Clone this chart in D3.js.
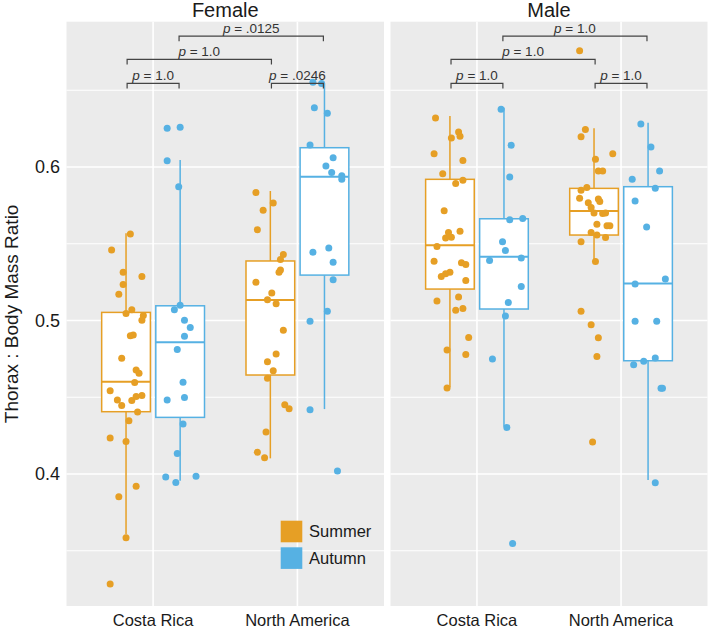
<!DOCTYPE html>
<html><head><meta charset="utf-8">
<script src="https://cdn.jsdelivr.net/npm/d3@7"></script>
<style>body{margin:0;background:#fff} text{font-family:"Liberation Sans",Arial,sans-serif}</style>
</head><body><svg id="c" width="709" height="630"></svg>
<script>
// ---------------- data ----------------
const panels = ["Female", "Male"];
const regions = ["Costa Rica", "North America"];
const seasons = ["Summer", "Autumn"];
const seasonColors = ["#E69F25", "#56B1E3"];
const yMajorTicks = [0.4, 0.5, 0.6];
const yMinorTicks = [0.35, 0.45, 0.55, 0.65];
const yDomain = [0.314, 0.6947];

// points: [ratio, jitter (in category units)]
const femaleCostaRicaSummer = [[0.5564,0.03],[0.546,-0.10],[0.5315,-0.02],[0.5287,0.11],[0.5235,-0.02],[0.5172,-0.05],[0.5071,0.04],[0.5045,0.00],[0.5032,0.12],[0.5002,0.11],[0.4905,0.05],[0.4900,0.03],[0.4754,-0.03],[0.4678,0.07],[0.4657,0.09],[0.4596,0.06],[0.4542,-0.11],[0.4483,-0.06],[0.4447,-0.03],[0.4479,0.04],[0.4505,0.07],[0.4511,0.11],[0.4404,0.08],[0.4347,0.02],[0.4235,-0.11],[0.4211,0.00],[0.392,0.07],[0.3852,-0.05],[0.3585,0.00],[0.3284,-0.11]];
const femaleCostaRicaAutumn = [[0.6252,-0.09],[0.6259,0.00],[0.6041,-0.09],[0.5872,-0.01],[0.5099,0.00],[0.5071,-0.04],[0.5002,0.03],[0.4955,0.07],[0.4898,0.03],[0.4812,-0.02],[0.4598,0.02],[0.4483,-0.09],[0.4498,0.03],[0.4326,0.02],[0.4134,-0.02],[0.3981,-0.10],[0.3944,-0.03],[0.3985,0.11]];
const femaleNorthAmericaSummer = [[0.5834,-0.10],[0.5765,0.02],[0.5719,-0.05],[0.5592,-0.09],[0.543,0.09],[0.5397,0.07],[0.533,0.07],[0.5315,0.06],[0.525,-0.10],[0.5179,0.01],[0.5136,-0.02],[0.511,0.04],[0.4937,0.09],[0.4782,0.04],[0.4732,-0.02],[0.4673,0.02],[0.4624,-0.02],[0.4451,0.10],[0.4425,0.13],[0.4274,-0.03],[0.4142,-0.09],[0.4106,-0.04]];
const femaleNorthAmericaAutumn = [[0.6552,-0.08],[0.6545,-0.02],[0.6386,-0.07],[0.635,0.02],[0.6143,-0.10],[0.606,0.06],[0.6007,0.01],[0.5965,0.05],[0.5943,0.12],[0.592,0.12],[0.5445,-0.08],[0.5473,0.03],[0.538,0.06],[0.5266,0.06],[0.506,0.02],[0.4995,-0.10],[0.4419,-0.10],[0.402,0.09]];
const maleCostaRicaSummer = [[0.6319,-0.10],[0.619,0.01],[0.6229,0.06],[0.6201,0.07],[0.6086,-0.11],[0.6043,0.09],[0.5957,-0.05],[0.5914,0.09],[0.5892,0.04],[0.5715,-0.04],[0.5574,-0.01],[0.5581,0.07],[0.5538,-0.03],[0.5542,0.01],[0.5482,-0.09],[0.5386,-0.11],[0.5376,0.08],[0.5365,0.11],[0.5315,0.00],[0.5305,-0.03],[0.5287,-0.06],[0.5261,0.11],[0.5127,-0.09],[0.5153,0.06],[0.5067,0.04],[0.5078,0.09],[0.489,0.13],[0.4808,-0.02],[0.4778,0.11],[0.456,-0.02]];
const maleCostaRicaAutumn = [[0.6377,-0.02],[0.6142,0.05],[0.5935,0.04],[0.5656,0.04],[0.5665,0.13],[0.5514,-0.01],[0.5456,0.01],[0.5391,-0.10],[0.5408,0.12],[0.5222,0.12],[0.5117,0.03],[0.503,0.01],[0.475,-0.08],[0.4303,0.02],[0.3547,0.06]];
const maleNorthAmericaSummer = [[0.6758,-0.10],[0.6245,-0.06],[0.6197,-0.09],[0.6087,0.13],[0.605,0.01],[0.5974,0.03],[0.5974,0.06],[0.5866,-0.05],[0.5849,-0.09],[0.5797,-0.10],[0.5768,-0.04],[0.5791,0.03],[0.5775,0.04],[0.5736,-0.02],[0.57,0.00],[0.5697,0.06],[0.57,0.08],[0.5628,0.02],[0.5617,0.09],[0.5617,0.11],[0.5573,-0.02],[0.5558,0.02],[0.5541,0.08],[0.5513,-0.09],[0.5385,0.01],[0.506,-0.09],[0.4972,-0.02],[0.4888,0.03],[0.4765,0.02],[0.4209,-0.01]];
const maleNorthAmericaAutumn = [[0.6281,-0.05],[0.613,0.02],[0.592,-0.11],[0.5974,0.08],[0.5862,0.05],[0.5779,-0.09],[0.561,-0.01],[0.527,0.12],[0.5238,-0.09],[0.4996,-0.09],[0.4996,0.06],[0.4712,-0.10],[0.4734,-0.03],[0.4756,0.05],[0.4558,0.09],[0.4558,0.10],[0.3943,0.05]];

// group order: panel, region, season
const groupPanel  = [0,0,0,0,1,1,1,1];
const groupRegion = [0,0,1,1,0,0,1,1];
const groupSeason = [0,1,0,1,0,1,0,1];
const groupPoints = [femaleCostaRicaSummer, femaleCostaRicaAutumn, femaleNorthAmericaSummer, femaleNorthAmericaAutumn,
                     maleCostaRicaSummer, maleCostaRicaAutumn, maleNorthAmericaSummer, maleNorthAmericaAutumn];
// box statistics
const boxLow  = [0.3607, 0.3956, 0.4102, 0.4423, 0.4565, 0.4308, 0.5394, 0.3961];
const boxQ1   = [0.4406, 0.4369, 0.4645, 0.5296, 0.5205, 0.5075, 0.5557, 0.4738];
const boxMed  = [0.4601, 0.4858, 0.5134, 0.5937, 0.5490, 0.5416, 0.5713, 0.5242];
const boxQ3   = [0.5053, 0.5096, 0.5388, 0.6126, 0.5920, 0.5663, 0.5861, 0.5872];
const boxHigh = [0.5568, 0.6046, 0.5844, 0.6545, 0.6332, 0.6386, 0.6252, 0.6289];

// significance brackets: panel, [region, season] start, end, y, label
const brPanel = [0, 0, 0, 0, 1, 1, 1, 1];
const brFrom  = [[0,0],[1,0],[0,0],[0,1],[0,0],[1,0],[0,0],[0,1]];
const brTo    = [[0,1],[1,1],[1,0],[1,1],[0,1],[1,1],[1,0],[1,1]];
const brY     = [0.6545, 0.6545, 0.6702, 0.6853, 0.6545, 0.6545, 0.6702, 0.6853];
const brLabel = ["1.0", ".0246", "1.0", ".0125", "1.0", "1.0", "1.0", "1.0"];

// ---------------- drawing ----------------
(function () {
const svg = d3.select("#c");
const panelX = [[66.5, 384], [390.5, 707.5]];
const pTop = 21.7, pBottom = 606;
const y = d3.scaleLinear().domain(yDomain).range([pBottom, pTop]);
const xs = panelX.map(r => d3.scalePoint().domain(regions).range(r).padding(0.6));
const dodge = 0.1875, boxW = 0.3375, brInset = 0.18;
const gx = (p, r, s, j=0) => { const sc = xs[p]; return sc(regions[r]) + sc.step() * ((s === 0 ? -dodge : dodge) + j); };
const bx = (p, r, s) => { const sc = xs[p]; return sc(regions[r]) + sc.step() * (s === 0 ? -brInset : brInset); };

panels.forEach((name, p) => {
  const [x0, x1] = panelX[p];
  const g = svg.append("g");
  g.append("rect").attr("x", x0).attr("y", pTop).attr("width", x1 - x0).attr("height", pBottom - pTop).attr("fill", "#EBEBEB");
  yMinorTicks.forEach(t => g.append("line").attr("x1", x0).attr("x2", x1).attr("y1", y(t)).attr("y2", y(t)).attr("stroke", "#fff").attr("stroke-width", 1.1));
  yMajorTicks.forEach(t => g.append("line").attr("x1", x0).attr("x2", x1).attr("y1", y(t)).attr("y2", y(t)).attr("stroke", "#fff").attr("stroke-width", 1.6));
  regions.forEach(r => g.append("line").attr("x1", xs[p](r)).attr("x2", xs[p](r)).attr("y1", pTop).attr("y2", pBottom).attr("stroke", "#fff").attr("stroke-width", 1.6));
  svg.append("text").attr("x", (x0 + x1) / 2).attr("y", 17).attr("text-anchor", "middle")
     .attr("font-size", 20).attr("fill", "#1a1a1a").text(name);
  regions.forEach(r => svg.append("text").attr("x", xs[p](r)).attr("y", 626).attr("text-anchor", "middle")
     .attr("font-size", 16.5).attr("fill", "#1a1a1a").text(r));
});

// y axis
yMajorTicks.forEach(t => svg.append("text").attr("x", 60).attr("y", y(t)).attr("dy", "0.35em").attr("text-anchor", "end")
  .attr("font-size", 18).attr("fill", "#1a1a1a").text(d3.format(".1f")(t)));
svg.append("text").attr("transform", `translate(18,${(pTop + pBottom) / 2}) rotate(-90)`).attr("text-anchor", "middle")
  .attr("font-size", 19).attr("fill", "#1a1a1a").text("Thorax : Body Mass Ratio");

// boxes
groupPoints.forEach((pts, i) => {
  const p = groupPanel[i], r = groupRegion[i], s = groupSeason[i];
  const cx = gx(p, r, s), w = xs[p].step() * boxW, col = seasonColors[s];
  svg.append("line").attr("x1", cx).attr("x2", cx).attr("y1", y(boxQ3[i])).attr("y2", y(boxHigh[i])).attr("stroke", col).attr("stroke-width", 1.5);
  svg.append("line").attr("x1", cx).attr("x2", cx).attr("y1", y(boxQ1[i])).attr("y2", y(boxLow[i])).attr("stroke", col).attr("stroke-width", 1.5);
  svg.append("rect").attr("x", cx - w / 2).attr("y", y(boxQ3[i])).attr("width", w).attr("height", y(boxQ1[i]) - y(boxQ3[i]))
     .attr("fill", "#fff").attr("stroke", col).attr("stroke-width", 1.5);
  svg.append("line").attr("x1", cx - w / 2).attr("x2", cx + w / 2).attr("y1", y(boxMed[i])).attr("y2", y(boxMed[i])).attr("stroke", col).attr("stroke-width", 2);
});
// points
groupPoints.forEach((pts, i) => {
  const p = groupPanel[i], r = groupRegion[i], s = groupSeason[i];
  svg.append("g").selectAll("circle").data(pts).join("circle")
    .attr("cx", d => gx(p, r, s, d[1])).attr("cy", d => y(d[0])).attr("r", 3.5).attr("fill", seasonColors[s]);
});

// brackets
const tip = 0.0034;
brPanel.forEach((p, i) => {
  const xa = bx(p, brFrom[i][0], brFrom[i][1]), xb = bx(p, brTo[i][0], brTo[i][1]);
  const yy = y(brY[i]), yt = y(brY[i] - tip);
  svg.append("path").attr("d", `M${xa},${yt}V${yy}H${xb}V${yt}`).attr("fill", "none").attr("stroke", "#444").attr("stroke-width", 1.2);
  const t = svg.append("text").attr("x", (xa + xb) / 2).attr("y", yy - 3.5).attr("text-anchor", "middle").attr("font-size", 13.5).attr("fill", "#333");
  t.append("tspan").attr("font-style", "italic").text("p");
  t.append("tspan").text(" = " + brLabel[i]);
});

// legend
seasons.forEach((s, i) => {
  const ly = 520.7 + i * 26.6;
  svg.append("rect").attr("x", 280.7).attr("y", ly).attr("width", 21.6).attr("height", 21.6).attr("fill", seasonColors[i]);
  svg.append("text").attr("x", 309).attr("y", ly + 10.8).attr("dy", "0.35em").attr("font-size", 16.5).attr("fill", "#1a1a1a").text(s);
});
})();
</script></body></html>
